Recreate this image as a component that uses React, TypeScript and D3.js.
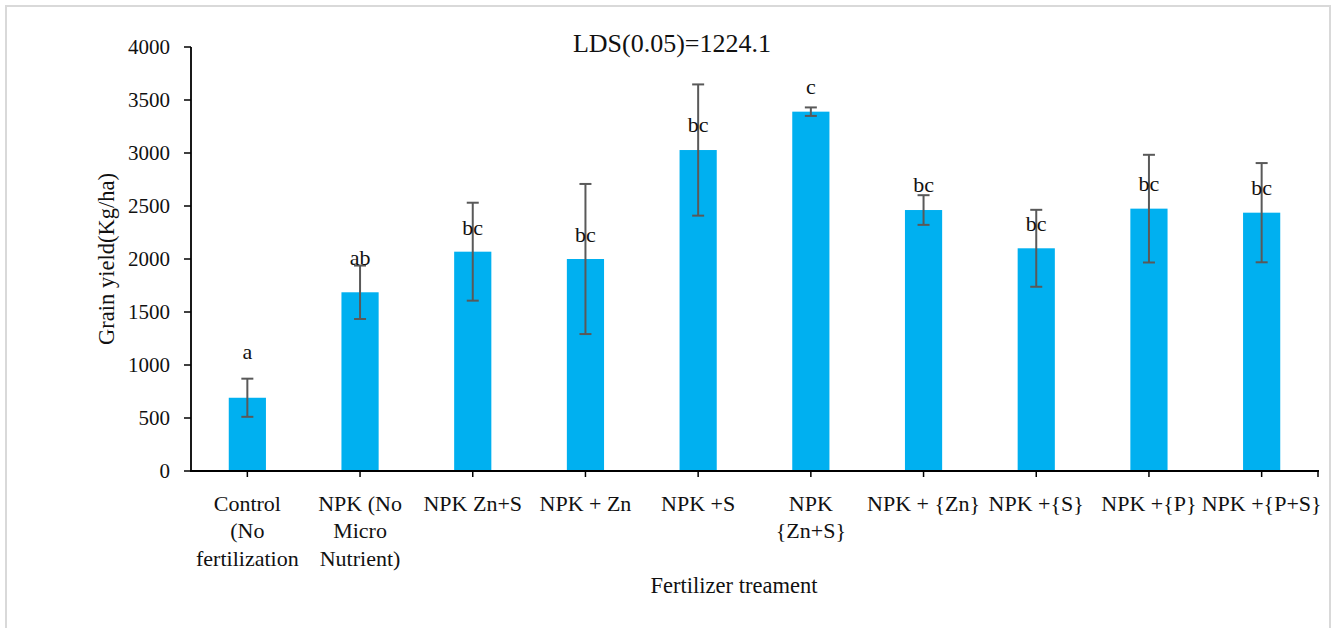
import React from "react";
import * as d3 from "d3";

const categories: string[][] = [
  ["Control", "(No", "fertilization"],
  ["NPK (No", "Micro", "Nutrient)"],
  ["NPK Zn+S"],
  ["NPK + Zn"],
  ["NPK +S"],
  ["NPK", "{Zn+S}"],
  ["NPK + {Zn}"],
  ["NPK +{S}"],
  ["NPK +{P}"],
  ["NPK +{P+S}"],
];
const means: number[] = [691, 1686, 2069, 2000, 3028, 3390, 2462, 2101, 2475, 2437];
const errors: number[] = [180, 252, 462, 708, 619, 40, 140, 363, 508, 468];
const letters: string[] = ["a", "ab", "bc", "bc", "bc", "c", "bc", "bc", "bc", "bc"];
const letterValues: number[] = [1054, 1946, 2226, 2160, 3195, 3557, 2629, 2264, 2642, 2601];
const yTicks: number[] = [0, 500, 1000, 1500, 2000, 2500, 3000, 3500, 4000];
const title = "LDS(0.05)=1224.1";
const yTitle = "Grain yield(Kg/ha)";
const xTitle = "Fertilizer treament";

const W = 1332;
const H = 628;
const FONT = "'Liberation Serif', 'Times New Roman', serif";

export default function App() {
  const ids = categories.map((_, i) => String(i));
  const x = d3
    .scaleBand<string>()
    .domain(ids)
    .range([191, 1318])
    .paddingInner(0.67)
    .paddingOuter(0.335);
  const y = d3.scaleLinear().domain([0, 4000]).range([471, 47]);
  const bw = x.bandwidth();
  const cx = (i: number) => (x(String(i)) as number) + bw / 2;

  return (
    <svg
      width={W}
      height={H}
      style={{ position: "absolute", left: 0, top: 0, display: "block", background: "#fff" }}
      fontFamily={FONT}
    >
      <rect x={6} y={6} width={1324} height={660} fill="#fff" stroke="#d9d9d9" strokeWidth={2} />

      {/* bars */}
      {means.map((m, i) => (
        <rect
          key={"b" + i}
          x={x(String(i))}
          y={y(m)}
          width={bw}
          height={y(0) - y(m)}
          fill="#00B0F0"
        />
      ))}

      {/* error bars */}
      {means.map((m, i) => {
        const c = cx(i);
        const t = y(m + errors[i]);
        const b = y(m - errors[i]);
        return (
          <g key={"e" + i} stroke="#595959" strokeWidth={2}>
            <line x1={c} x2={c} y1={t} y2={b} />
            <line x1={c - 6} x2={c + 6} y1={t} y2={t} />
            <line x1={c - 6} x2={c + 6} y1={b} y2={b} />
          </g>
        );
      })}

      {/* letters */}
      {letters.map((l, i) => (
        <text key={"l" + i} x={cx(i)} y={y(letterValues[i])} textAnchor="middle" fontSize={22} fill="#111">
          {l}
        </text>
      ))}

      {/* y axis */}
      <line x1={191} x2={191} y1={y(4000)} y2={y(0)} stroke="#000" strokeWidth={1.8} />
      {yTicks.map((t) => (
        <g key={"yt" + t}>
          <line x1={184} x2={191} y1={y(t)} y2={y(t)} stroke="#000" strokeWidth={1.5} />
          <text x={170} y={y(t) + 7} textAnchor="end" fontSize={21} fill="#111">
            {t}
          </text>
        </g>
      ))}

      {/* x axis */}
      <line x1={190} x2={1319} y1={y(0)} y2={y(0)} stroke="#000" strokeWidth={1.8} />
      {categories.map((_, i) => (
        <line key={"xt" + i} x1={cx(i)} x2={cx(i)} y1={y(0)} y2={y(0) + 6} stroke="#000" strokeWidth={1.5} />
      ))}
      <line x1={1318} x2={1318} y1={y(0)} y2={y(0) + 6} stroke="#000" strokeWidth={1.5} />

      {categories.map((lines, i) => (
        <text key={"xl" + i} textAnchor="middle" fontSize={22} fill="#111">
          {lines.map((ln, j) => (
            <tspan key={j} x={cx(i)} y={510.5 + j * 27.7}>
              {ln}
            </tspan>
          ))}
        </text>
      ))}

      {/* titles */}
      <text x={672} y={52} textAnchor="middle" fontSize={26} fill="#111">
        {title}
      </text>
      <text
        transform={`translate(114,259) rotate(-90)`}
        textAnchor="middle"
        fontSize={22.5}
        fill="#111"
      >
        {yTitle}
      </text>
      <text x={734} y={593} textAnchor="middle" fontSize={22.5} fill="#111">
        {xTitle}
      </text>
    </svg>
  );
}
